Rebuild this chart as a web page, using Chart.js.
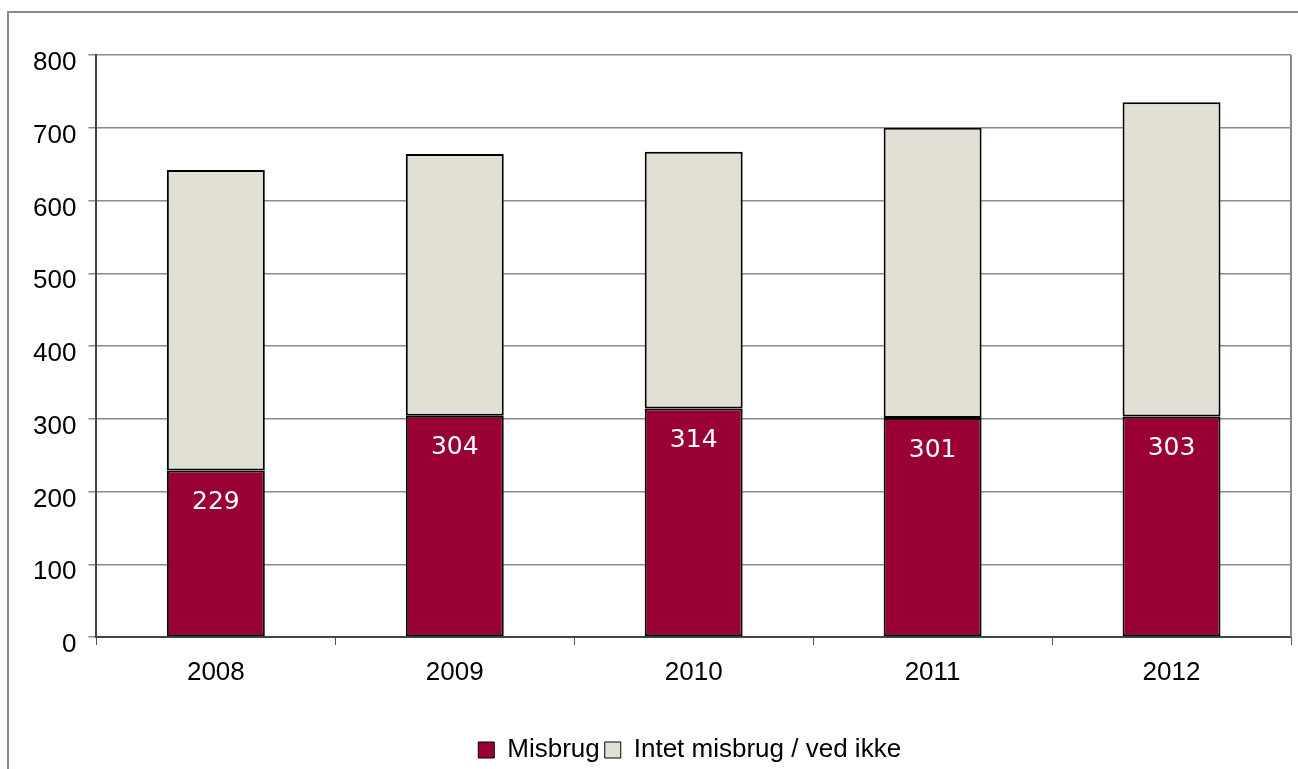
<!DOCTYPE html>
<html>
<head>
<meta charset="utf-8">
<script src="https://cdn.jsdelivr.net/npm/chart.js@4"></script>
<style>
  body { margin: 0; background: #fff; }
  #frame { position: absolute; left: 7px; top: 11px; width: 1400px; height: 900px; border: 2px solid #8a8a8a; }
  #wrap { position: absolute; left: 0; top: 0; width: 1298px; height: 769px; }
</style>
</head>
<body>
<div id="frame"></div>
<div id="wrap"><canvas id="bar-chart"></canvas></div>
<script>
const years = ["2008", "2009", "2010", "2011", "2012"];
const misbrug = [229, 304, 314, 301, 303];
const intetMisbrug = [413, 360, 353, 399, 432];
const yTicks = [0, 100, 200, 300, 400, 500, 600, 700, 800];

// etiketter inde i de røde søjler + ramme om plotområdet
const labelsPlugin = {
  id: "labelsPlugin",
  afterLayout(chart) {
    // legenden centreres over plotområdet i stedet for hele lærredet
    const lg = chart.legend;
    const a = chart.chartArea;
    const dx = (a.left + a.right) / 2 - 4 - (lg.left + lg.right) / 2;
    lg.left += dx;
    lg.right += dx;
    lg.top += 4;
    lg.bottom += 4;
  },
  afterDatasetsDraw(chart) {
    const ctx = chart.ctx;
    const meta = chart.getDatasetMeta(0);
    ctx.save();
    ctx.fillStyle = "#fff";
    ctx.font = "25px 'DejaVu Sans'";
    ctx.textAlign = "center";
    ctx.textBaseline = "middle";
    meta.data.forEach((bar, i) => {
      ctx.fillText(misbrug[i], bar.x, bar.y + 32);
    });
    const a = chart.chartArea;
    ctx.strokeStyle = "#8a8a8a";
    ctx.lineWidth = 2;
    ctx.beginPath();
    ctx.moveTo(a.right, a.top);
    ctx.lineTo(a.right, a.bottom);
    ctx.stroke();
    ctx.restore();
  }
};

const barchart = new Chart(document.querySelector("#bar-chart").getContext("2d"), {
  type: "bar",
  data: {
    labels: years,
    datasets: [
      {
        label: "Misbrug",
        data: misbrug,
        backgroundColor: "#990033",
        borderColor: "#000",
        borderWidth: 2,
        borderSkipped: false,
        categoryPercentage: 1,
        barPercentage: 0.41
      },
      {
        label: "Intet misbrug / ved ikke",
        data: intetMisbrug,
        backgroundColor: "#e2dfd5",
        borderColor: "#000",
        borderWidth: 2,
        borderSkipped: false,
        categoryPercentage: 1,
        barPercentage: 0.41
      }
    ]
  },
  options: {
    responsive: true,
    maintainAspectRatio: false,
    animation: false,
    layout: { padding: { left: 21, right: 7, top: 55, bottom: 0 } },
    plugins: {
      tooltip: { enabled: false },
      legend: {
        position: "bottom",
        labels: {
          font: { family: "'Liberation Sans', Arial", size: 26 },
          color: "#000",
          boxWidth: 16,
          boxHeight: 16,
          padding: 5,
          generateLabels(chart) {
            return chart.data.datasets.map((ds, i) => ({
              text: ds.label,
              fillStyle: ds.backgroundColor,
              strokeStyle: "#000",
              lineWidth: 1,
              datasetIndex: i
            }));
          }
        }
      }
    },
    scales: {
      x: {
        stacked: true,
        afterFit(axis) { axis.height = 91; },
        grid: { display: true, drawOnChartArea: false, tickLength: 8, color: "#555" },
        border: { color: "#444", width: 2 },
        ticks: { font: { family: "'Liberation Sans', Arial", size: 26 }, color: "#000", padding: 12 }
      },
      y: {
        stacked: true,
        min: 0,
        max: 800,
        afterBuildTicks(axis) { axis.ticks = yTicks.map(v => ({ value: v })); },
        grid: { color: "#8a8a8a", lineWidth: 1.5, tickLength: 8 },
        border: { color: "#444", width: 2 },
        ticks: { font: { family: "'Liberation Sans', Arial", size: 26 }, color: "#000", padding: 12, labelOffset: 8 }
      }
    }
  },
  plugins: [labelsPlugin]
});
</script>
</body>
</html>
